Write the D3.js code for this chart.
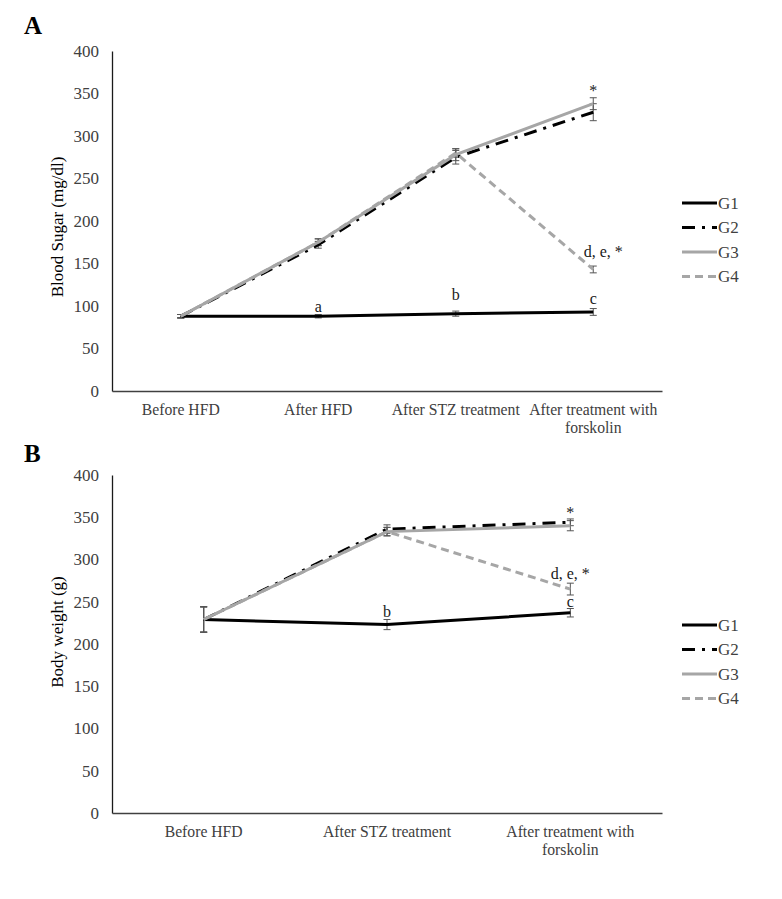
<!DOCTYPE html>
<html>
<head>
<meta charset="utf-8">
<script src="https://cdn.jsdelivr.net/npm/d3@7"></script>
<style>
  body { margin: 0; background: #fff; }
  text { font-family: "Liberation Serif", "Times New Roman", serif; }
</style>
</head>
<body>
<svg id="chart" width="782" height="899"></svg>
<script>
// panel A - blood sugar
const catsA = ["Before HFD", "After HFD", "After STZ treatment", "After treatment with forskolin"];
const g1A = [88, 88, 91, 93];
const g2A = [88, 172, 275, 328];
const g3A = [88, 175, 278, 338];
const g4A = [88, 175, 280, 143];
const g1AErr = [2, 2, 3, 4];
const g2AErr = [2, 4, 8, 10];
const g3AErr = [2, 4, 7, 7];
const g4AErr = [2, 4, 5, 4];
const notesA = [
  { text: "a", cat: 1, value: 99 },
  { text: "b", cat: 2, value: 114 },
  { text: "c", cat: 3, value: 109 },
  { text: "*", cat: 3, value: 354 },
  { text: "d, e, *", cat: 3, value: 164, dx: 10 }
];

// panel B - body weight
const catsB = ["Before HFD", "After STZ treatment", "After treatment with forskolin"];
const g1B = [229, 223, 237];
const g2B = [229, 336, 344];
const g3B = [229, 333, 340];
const g4B = [229, 333, 265];
const g1BErr = [15, 6, 5];
const g2BErr = [15, 5, 4];
const g3BErr = [15, 5, 6];
const g4BErr = [15, 5, 7];
const notesB = [
  { text: "b", cat: 1, value: 238 },
  { text: "c", cat: 2, value: 250 },
  { text: "*", cat: 2, value: 356 },
  { text: "d, e, *", cat: 2, value: 284 }
];

const yTicks = [0, 50, 100, 150, 200, 250, 300, 350, 400];
const groupNames = ["G1", "G2", "G3", "G4"];

// line styles for each group
const styles = [
  { color: "#000000", dash: null },
  { color: "#000000", dash: "13,7,3,7" },
  { color: "#a6a6a6", dash: null },
  { color: "#a6a6a6", dash: "8,5" }
];

const svg = d3.select("#chart");

function drawPanel(opts) {
  const x = d3.scaleBand()
    .domain(opts.cats)
    .range([112, 662]);
  const y = d3.scaleLinear()
    .domain([0, 400])
    .range([opts.bottom, opts.top]);

  const g = svg.append("g");

  // y axis
  const yAxis = g.append("g")
    .attr("transform", "translate(112,0)")
    .call(d3.axisLeft(y).tickValues(yTicks).tickSize(0).tickPadding(13));
  yAxis.select(".domain").attr("stroke", "#1a1a1a").attr("stroke-width", 1.3);
  yAxis.selectAll("text")
    .attr("font-size", 17)
    .attr("fill", "#404040")
    .style("font-family", "Liberation Serif");

  // x axis
  const xAxis = g.append("g")
    .attr("transform", "translate(0," + opts.bottom + ")")
    .call(d3.axisBottom(x).tickSize(0).tickPadding(0));
  xAxis.select(".domain").attr("stroke", "#404040").attr("stroke-width", 1.3);
  xAxis.selectAll("text").remove();
  xAxis.selectAll(".tick").each(function (d) {
    const words = d.split(" ");
    let lines = [d];
    if (d.length > 22) {
      lines = [words.slice(0, 3).join(" "), words.slice(3).join(" ")];
    }
    const t = d3.select(this).append("text")
      .attr("text-anchor", "middle")
      .attr("font-size", 15.7)
      .attr("fill", "#404040");
    lines.forEach((l, i) => {
      t.append("tspan").attr("x", 0).attr("y", 24 + i * 18).text(l);
    });
  });

  // axis title
  g.append("text")
    .attr("transform", "translate(63," + opts.titleY + ") rotate(-90)")
    .attr("text-anchor", "middle")
    .attr("font-size", 17)
    .attr("fill", "#000")
    .text(opts.yTitle);

  // panel letter
  g.append("text")
    .attr("x", 24)
    .attr("y", opts.letterY)
    .attr("font-size", 25)
    .attr("font-weight", "bold")
    .text(opts.letter);

  const cx = i => x(opts.cats[i]) + x.bandwidth() / 2;

  // error bars
  opts.series.forEach((s, k) => {
    s.forEach((v, i) => {
      const e = opts.errs[k][i];
      const xx = cx(i);
      g.append("path")
        .attr("d", "M" + (xx - 3.5) + "," + y(v + e) + "H" + (xx + 3.5) +
          "M" + xx + "," + y(v + e) + "V" + y(v - e) +
          "M" + (xx - 3.5) + "," + y(v - e) + "H" + (xx + 3.5))
        .attr("stroke", "#555")
        .attr("stroke-width", 1)
        .attr("fill", "none");
    });
  });

  // lines - draw G1, G2, then G4, then G3 on top
  const line = d3.line()
    .x((d, i) => cx(i))
    .y(d => y(d));
  [0, 1, 3, 2].forEach(k => {
    g.append("path")
      .datum(opts.series[k])
      .attr("fill", "none")
      .attr("stroke", styles[k].color)
      .attr("stroke-width", 3)
      .attr("stroke-dasharray", styles[k].dash)
      .attr("d", line);
  });

  // annotations
  opts.notes.forEach(n => {
    g.append("text")
      .attr("x", cx(n.cat) + (n.dx || 0))
      .attr("y", y(n.value))
      .attr("dy", "0.35em")
      .attr("text-anchor", "middle")
      .attr("font-size", 16)
      .attr("fill", "#1a1a1a")
      .text(n.text);
  });

  // legend
  groupNames.forEach((name, k) => {
    const ly = opts.legendY + k * 24.5;
    g.append("line")
      .attr("x1", 682).attr("x2", 717)
      .attr("y1", ly).attr("y2", ly)
      .attr("stroke", styles[k].color)
      .attr("stroke-width", 3)
      .attr("stroke-dasharray", styles[k].dash);
    g.append("text")
      .attr("x", 718)
      .attr("y", ly)
      .attr("dy", "0.35em")
      .attr("font-size", 17)
      .attr("fill", "#404040")
      .text(name);
  });
}

drawPanel({
  cats: catsA,
  series: [g1A, g2A, g3A, g4A],
  errs: [g1AErr, g2AErr, g3AErr, g4AErr],
  notes: notesA,
  top: 51, bottom: 391,
  yTitle: "Blood Sugar (mg/dl)", titleY: 227,
  letter: "A", letterY: 34,
  legendY: 203
});

drawPanel({
  cats: catsB,
  series: [g1B, g2B, g3B, g4B],
  errs: [g1BErr, g2BErr, g3BErr, g4BErr],
  notes: notesB,
  top: 475, bottom: 813,
  yTitle: "Body weight (g)", titleY: 632,
  letter: "B", letterY: 462,
  legendY: 625
});
</script>
</body>
</html>
